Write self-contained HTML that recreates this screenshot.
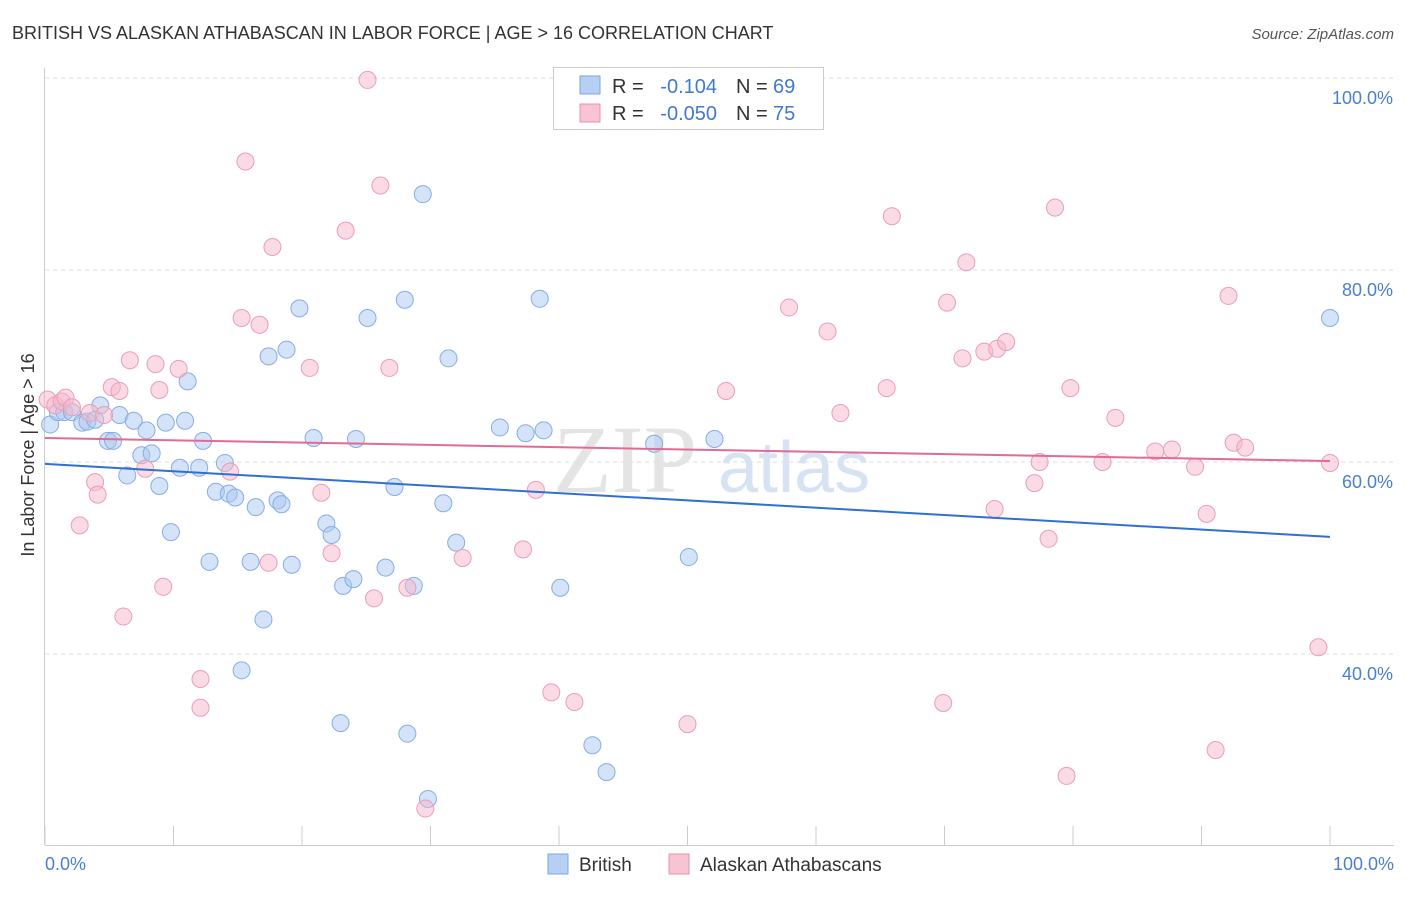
<!DOCTYPE html>
<html><head><meta charset="utf-8"><style>
body{margin:0;background:#fff;font-family:"Liberation Sans",sans-serif}
</style></head><body>
<svg width="1406" height="892" xmlns="http://www.w3.org/2000/svg" font-family="Liberation Sans, sans-serif">
<text x="12" y="39" font-size="18" fill="#333">BRITISH VS ALASKAN ATHABASCAN IN LABOR FORCE | AGE &gt; 16 CORRELATION CHART</text>
<text x="1394" y="39" font-size="15" fill="#555" font-style="italic" text-anchor="end">Source: ZipAtlas.com</text>
<g id="grid"></g>
<g><text x="553" y="492" font-size="96" font-family="Liberation Serif, serif" fill="#e4e4e4">ZIP</text><text x="718" y="492" font-size="72" fill="#d6e3f3">atlas</text></g>
<g id="axes"></g>
<g id="marks"></g>
<text x="34" y="455" font-size="18" fill="#333" transform="rotate(-90 34 455)" text-anchor="middle">In Labor Force | Age &gt; 16</text>
<text x="45" y="870" font-size="18" fill="#4a7fd0">0.0%</text>
<text x="1394" y="870" font-size="18" fill="#4a7fd0" text-anchor="end">100.0%</text>
<g>
<rect x="553.5" y="67.5" width="270" height="62" fill="#fff" stroke="#ccc"/>
<rect x="580" y="76" width="20" height="18" fill="#b5d0f3" stroke="#7aa6e0"/>
<text x="612" y="93" font-size="20" fill="#333">R =</text>
<text x="717" y="93" font-size="20" fill="#3f7ad0" text-anchor="end">-0.104</text>
<text x="736" y="93" font-size="20" fill="#333">N =</text>
<text x="773" y="93" font-size="20" fill="#3f7ad0">69</text>
<rect x="580" y="104" width="20" height="18" fill="#f8c4d4" stroke="#e890ad"/>
<text x="612" y="120" font-size="20" fill="#333">R =</text>
<text x="717" y="120" font-size="20" fill="#3f7ad0" text-anchor="end">-0.050</text>
<text x="736" y="120" font-size="20" fill="#333">N =</text>
<text x="773" y="120" font-size="20" fill="#3f7ad0">75</text>
</g>
<g><rect x="548" y="854" width="20" height="20" fill="#b5d0f3" stroke="#7aa6e0"/><text x="579" y="871" font-size="19" fill="#333">British</text></g>
<g><rect x="669" y="854" width="20" height="20" fill="#f8c4d4" stroke="#e890ad"/><text x="700" y="871" font-size="19" fill="#333">Alaskan Athabascans</text></g>
</svg>
<script>
const yTicks=[100,80,60,40];
const yTickLabels=["100.0%","80.0%","60.0%","40.0%"];
const xTicks=[0,10,20,30,40,50,60,70,80,90,100];
const britishX=[0.4,1.0,1.5,2.1,2.9,3.3,4.3,3.9,4.9,5.3,5.8,6.4,6.9,7.5,7.9,8.3,8.9,9.4,9.8,10.5,10.9,11.1,12.0,12.3,12.8,13.3,14.0,14.3,14.8,15.3,16.0,16.4,17.0,17.4,18.1,18.4,18.8,19.2,19.8,20.9,21.9,22.3,23.0,23.2,24.0,24.2,25.1,26.5,27.2,28.0,28.2,28.7,29.4,29.8,31.0,31.4,32.0,35.4,37.4,38.5,38.8,40.1,42.6,43.7,47.4,50.1,52.1,100];
const britishY=[63.9,65.2,65.2,65.2,64.1,64.2,65.9,64.4,62.2,62.2,64.9,58.6,64.3,60.7,63.3,60.9,57.5,64.1,52.7,59.4,64.3,68.4,59.4,62.2,49.6,56.9,59.9,56.7,56.3,38.3,49.6,55.3,43.6,71.0,56.0,55.6,71.7,49.3,76.0,62.5,53.6,52.4,32.8,47.1,47.8,62.4,75.0,49.0,57.4,76.9,31.7,47.1,87.9,24.9,55.7,70.8,51.6,63.6,63.0,77.0,63.3,46.9,30.5,27.7,61.9,50.1,62.4,75.0];
const alaskanX=[0.2,0.8,1.3,1.6,2.1,2.7,3.5,3.9,4.1,4.6,5.2,5.8,6.1,6.6,7.8,8.6,8.9,9.2,10.4,12.1,12.1,14.4,15.3,15.6,16.7,17.4,17.7,20.6,21.5,22.3,23.4,25.1,25.6,26.1,26.8,28.2,29.6,32.5,37.2,38.2,39.4,41.2,50.0,53.0,57.9,60.9,61.9,65.5,65.9,69.9,70.2,71.4,71.7,73.1,73.9,74.1,74.8,77.0,77.4,78.1,78.6,79.5,79.8,82.3,83.3,86.4,87.7,89.5,90.4,91.1,92.1,92.5,93.4,99.1,100];
const alaskanY=[66.5,65.9,66.3,66.7,65.7,53.4,65.1,57.9,56.6,64.9,67.8,67.4,43.9,70.6,59.3,70.2,67.5,47.0,69.7,37.4,34.4,59.0,75.0,91.3,74.3,49.5,82.4,69.8,56.8,50.5,84.1,99.8,45.8,88.8,69.8,46.9,23.9,50.0,50.9,57.1,36.0,35.0,32.7,67.4,76.1,73.6,65.1,67.7,85.6,34.9,76.6,70.8,80.8,71.5,55.1,71.8,72.5,57.8,60.0,52.0,86.5,27.3,67.7,60.0,64.6,61.1,61.3,59.5,54.6,30.0,77.3,62.0,61.5,40.7,59.9];
const britishTrend=[59.8,52.2];
const alaskanTrend=[62.5,60.1];
const NS="http://www.w3.org/2000/svg";
const xs=v=>45+v*12.85, ys=v=>78+(100-v)*9.6;
function mk(t,a,p){const e=document.createElementNS(NS,t);for(const k in a)e.setAttribute(k,a[k]);p.appendChild(e);return e;}
const grid=document.getElementById('grid'),axes=document.getElementById('axes'),marks=document.getElementById('marks');
yTicks.forEach((v,i)=>{
 const l=mk('line',{x1:45,x2:1394,y1:ys(v),y2:ys(v),stroke:'#ddd','stroke-dasharray':'4,4'},grid);
 
 
 const t=mk('text',{x:1393,y:ys(v)+26,'font-size':18,fill:'#4a7fd0','text-anchor':'end'},grid);
 t.textContent=yTickLabels[i];
 
 
});
mk('line',{x1:44.5,x2:44.5,y1:68,y2:845,stroke:'#ccc'},axes);
mk('line',{x1:45,x2:1394,y1:845.5,y2:845.5,stroke:'#ccc'},axes);
xTicks.forEach(v=>{
 const l=mk('line',{x1:xs(v),x2:xs(v),y1:826,y2:845,stroke:'#ccc'},axes);
 
 
});
function pts(X,Y,fill,stroke,name){
 X.forEach((x,i)=>{
  const c=mk('circle',{cx:xs(x),cy:ys(Y[i]),r:8.5,fill:fill,'fill-opacity':0.5,stroke:stroke,'stroke-width':1},marks);
  
  
 });
}
pts(britishX,britishY,'#a9c8f0','#86ade3','british-point');
pts(alaskanX,alaskanY,'#f5b8cb','#eb9db6','alaskan-point');
const t1=mk('line',{x1:xs(0),x2:xs(100),y1:ys(britishTrend[0]),y2:ys(britishTrend[1]),stroke:'#2f6fd6','stroke-width':2},marks);


const t2=mk('line',{x1:xs(0),x2:xs(100),y1:ys(alaskanTrend[0]),y2:ys(alaskanTrend[1]),stroke:'#e26a94','stroke-width':2},marks);


</script>
</body></html>
